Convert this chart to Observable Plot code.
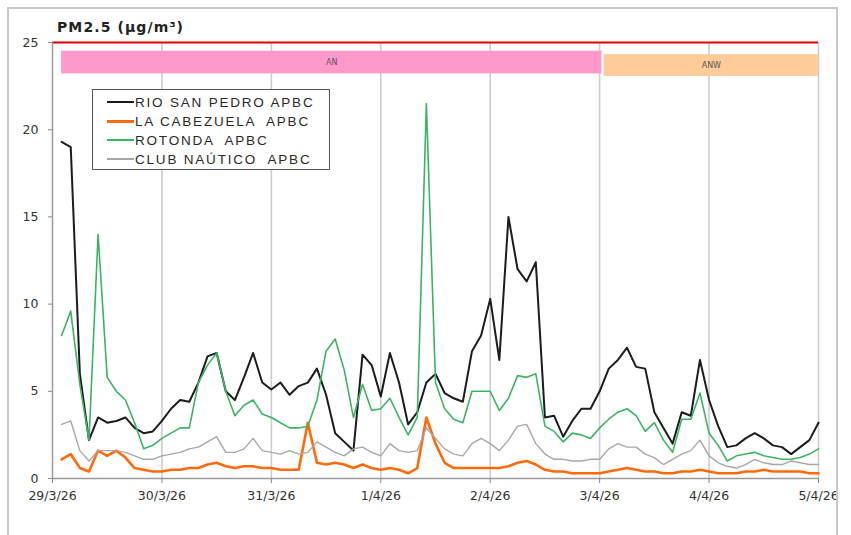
<!DOCTYPE html>
<html><head><meta charset="utf-8">
<script src="https://cdn.jsdelivr.net/npm/d3@7"></script>
<script src="https://cdn.jsdelivr.net/npm/@observablehq/plot@0.6"></script>
<style>
body{margin:0;background:#fff;}
#wrap{position:relative;width:851px;height:535px;overflow:hidden;background:#fff;}
#chart{position:absolute;left:0;top:0;}
#frame{position:absolute;left:7px;top:7px;width:831px;height:600px;border:2px solid #c8c8c8;box-sizing:border-box;pointer-events:none;}
#title{position:absolute;left:57px;top:19px;font:bold 14px "DejaVu Sans";color:#222;letter-spacing:1.1px;white-space:nowrap;}
#legend{position:absolute;left:92px;top:89px;width:238px;height:81px;border:1.5px solid #555;background:#fff;box-sizing:border-box;}
.row{position:absolute;left:14px;height:19px;display:flex;align-items:center;font:13.5px "Liberation Sans";letter-spacing:1.8px;color:#2a2a2a;white-space:pre;}
.sw{width:27px;margin-right:1px;}
</style></head>
<body><div id="wrap"><div id="chart"></div><div id="title">PM2.5 (µg/m³)</div><div id="legend"></div><div id="frame"></div></div>
<script>
// time axis: hours since 29/3/26 00:00, 2-hour samples
const hours = d3.range(2, 170, 2);
const dayHours = [0, 24, 48, 72, 96, 120, 144, 168];
const dayLabels = ["29/3/26", "30/3/26", "31/3/26", "1/4/26", "2/4/26", "3/4/26", "4/4/26", "5/4/26"];
const yTicks = [0, 5, 10, 15, 20, 25];
const limitValue = 25;

const seriesNames = ["RIO SAN PEDRO APBC", "LA CABEZUELA  APBC", "ROTONDA  APBC", "CLUB NAÚTICO  APBC"];
const seriesColors = ["#1c1c1c", "#ff6a0a", "#3cb464", "#a8a8a8"];
const seriesWidths = [2, 2.6, 1.6, 1.4];

const rioSanPedro = [
  19.3, 19.0, 6.0, 2.2, 3.5, 3.2, 3.3, 3.5, 2.9, 2.6,
  2.7, 3.3, 4.0, 4.5, 4.4, 5.5, 7.0, 7.2, 5.0, 4.5,
  5.8, 7.2, 5.5, 5.1, 5.5, 4.8, 5.3, 5.5, 6.3, 4.8,
  2.6, 2.1, 1.6, 7.1, 6.5, 4.7, 7.2, 5.5, 3.1, 3.8,
  5.5, 6.0, 4.9, 4.6, 4.4, 7.3, 8.2, 10.3, 6.8, 15.0,
  12.0, 11.3, 12.4, 3.5, 3.6, 2.4, 3.3, 4.0, 4.0, 5.0,
  6.3, 6.8, 7.5, 6.4, 6.3, 3.8, 2.9, 2.0, 3.8, 3.6,
  6.8, 4.5, 3.0, 1.8, 1.9, 2.3, 2.6, 2.3, 1.9, 1.8,
  1.4, 1.8, 2.2, 3.2
];
const laCabezuela = [
  1.1, 1.4, 0.6, 0.4, 1.6, 1.3, 1.6, 1.2, 0.6, 0.5,
  0.4, 0.4, 0.5, 0.5, 0.6, 0.6, 0.8, 0.9, 0.7, 0.6,
  0.7, 0.7, 0.6, 0.6, 0.5, 0.5, 0.5, 3.2, 0.9, 0.8,
  0.9, 0.8, 0.6, 0.8, 0.6, 0.5, 0.6, 0.5, 0.3, 0.6,
  3.5, 2.0, 0.9, 0.6, 0.6, 0.6, 0.6, 0.6, 0.6, 0.7,
  0.9, 1.0, 0.8, 0.5, 0.4, 0.4, 0.3, 0.3, 0.3, 0.3,
  0.4, 0.5, 0.6, 0.5, 0.4, 0.4, 0.3, 0.3, 0.4, 0.4,
  0.5, 0.4, 0.3, 0.3, 0.3, 0.4, 0.4, 0.5, 0.4, 0.4,
  0.4, 0.4, 0.3, 0.3
];
const rotonda = [
  8.2, 9.6, 5.4, 2.2, 14.0, 5.8, 5.0, 4.5, 3.2, 1.7,
  1.9, 2.3, 2.6, 2.9, 2.9, 5.5, 6.5, 7.2, 5.0, 3.6,
  4.2, 4.5, 3.7, 3.5, 3.2, 2.9, 2.9, 3.0, 4.5, 7.3,
  8.0, 6.2, 3.5, 5.4, 3.9, 4.0, 4.6, 3.5, 2.5, 3.5,
  21.5, 5.5, 4.0, 3.4, 3.2, 5.0, 5.0, 5.0, 3.9, 4.6,
  5.9, 5.8, 6.0, 3.0, 2.7, 2.1, 2.6, 2.5, 2.3, 2.9,
  3.4, 3.8, 4.0, 3.6, 2.7, 3.2, 2.2, 1.5, 3.4, 3.4,
  4.9, 2.6, 1.9, 1.0, 1.3, 1.4, 1.5, 1.3, 1.2, 1.1,
  1.1, 1.2, 1.4, 1.7
];
const clubNautico = [
  3.1, 3.3, 1.6, 1.0, 1.6, 1.6, 1.6, 1.5, 1.3, 1.1,
  1.1, 1.3, 1.4, 1.5, 1.7, 1.8, 2.1, 2.4, 1.5, 1.5,
  1.7, 2.3, 1.6, 1.5, 1.4, 1.6, 1.4, 1.5, 2.1, 1.8,
  1.5, 1.3, 1.7, 1.8, 1.5, 1.3, 2.0, 1.6, 1.5, 1.6,
  2.9, 2.3, 1.7, 1.4, 1.3, 2.0, 2.3, 2.0, 1.6, 2.2,
  3.0, 3.1, 2.0, 1.4, 1.1, 1.1, 1.0, 1.0, 1.1, 1.1,
  1.7, 2.0, 1.8, 1.8, 1.4, 1.2, 0.8, 1.1, 1.4, 1.6,
  2.2, 1.3, 0.9, 0.7, 0.6, 0.8, 1.1, 0.9, 0.8, 0.8,
  1.0, 0.9, 0.8, 0.8
];

// wind-direction bands
const bandNames = ["AN", "ANW"];
const bandStart = [2, 121];
const bandEnd = [120.5, 168];
const bandColors = ["#ff99cc", "#ffcc99"];

const seriesValues = [rioSanPedro, laCabezuela, rotonda, clubNautico];
const bands = bandNames.map((n, i) => ({name: n, x1: bandStart[i], x2: bandEnd[i], fill: bandColors[i], mid: (bandStart[i] + bandEnd[i]) / 2}));

const lineMarks = seriesValues.map((vals, s) =>
  Plot.line(hours.map((h, i) => ({h, v: vals[i]})), {
    x: "h", y: "v", stroke: seriesColors[s], strokeWidth: seriesWidths[s], strokeLinejoin: "round"
  })
);

const chart = Plot.plot({
  width: 851, height: 535,
  marginLeft: 52, marginRight: 33, marginTop: 42, marginBottom: 57,
  style: {fontFamily: "DejaVu Sans", fontSize: "12.5px", color: "#333", background: "transparent"},
  x: {domain: [0, 168]},
  y: {domain: [0, 25]},
  marks: [
    Plot.ruleX(dayHours.slice(1), {stroke: "#cdcdcd", strokeWidth: 1.6}),
    Plot.rect([bands[0]], {x1: "x1", x2: "x2", y1: 23.2, y2: 24.5, fill: "fill"}),
    Plot.rect([bands[1]], {x1: "x1", x2: "x2", y1: 23.05, y2: 24.3, fill: "fill"}),
    Plot.text([bands[0]], {x: "mid", y: 23.85, text: "name", fontSize: 8, fill: "#555"}),
    Plot.text([bands[1]], {x: "mid", y: 23.68, text: "name", fontSize: 8, fill: "#555"}),
    Plot.ruleY([limitValue], {stroke: "#e00000", strokeWidth: 2.2}),
    ...lineMarks,
    Plot.ruleX([0], {stroke: "#9a9a9a", strokeWidth: 1.5}),
    Plot.ruleY([0], {stroke: "#9a9a9a", strokeWidth: 1.5}),
    Plot.axisY({ticks: yTicks, tickSize: 4, tickPadding: 10, label: null, stroke: "#888"}),
    Plot.axisX({ticks: dayHours, tickFormat: d => dayLabels[dayHours.indexOf(d)], tickSize: 5, tickPadding: 8, label: null, stroke: "#888"})
  ]
});
document.getElementById("chart").appendChild(chart);

const legend = document.getElementById("legend");
const rowCenters = [12, 31, 50, 69];
seriesNames.forEach((name, i) => {
  const row = document.createElement("div");
  row.className = "row";
  row.style.top = (rowCenters[i] - 9.5) + "px";
  const sw = document.createElement("span");
  sw.className = "sw";
  sw.style.height = Math.max(1.5, seriesWidths[i] + 0.4) + "px";
  sw.style.background = seriesColors[i];
  const t = document.createElement("span");
  t.textContent = name;
  row.appendChild(sw); row.appendChild(t);
  legend.appendChild(row);
});
</script>
</body></html>
